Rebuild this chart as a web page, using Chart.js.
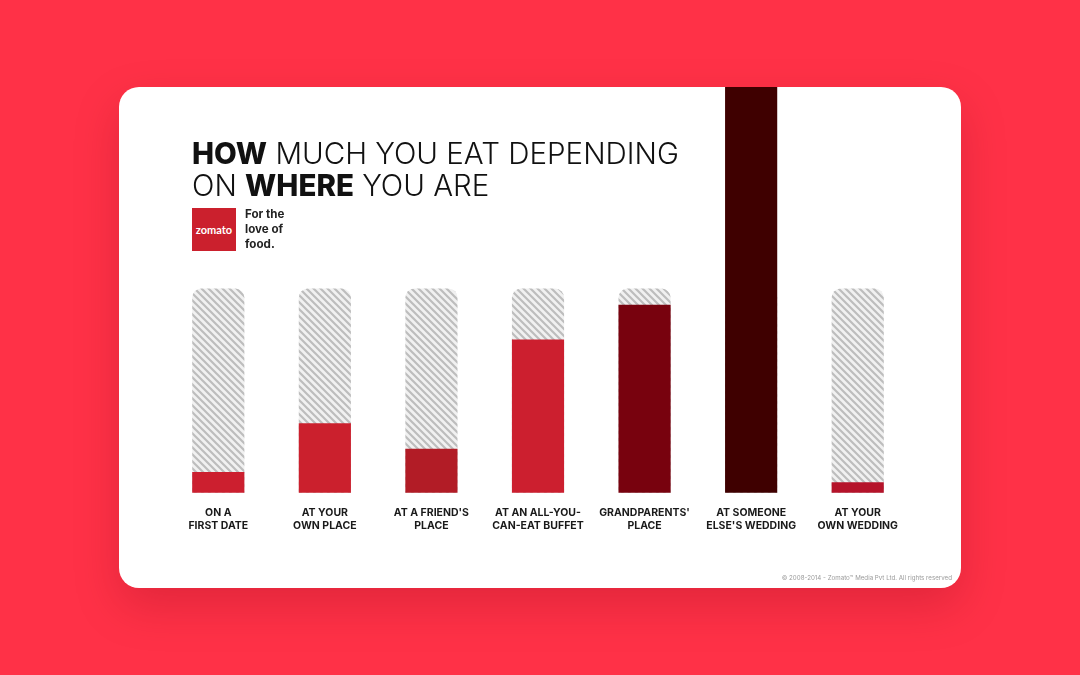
<!DOCTYPE html>
<html>
<head>
<meta charset="utf-8">
<title>How much you eat depending on where you are</title>
<script src="https://cdn.jsdelivr.net/npm/chart.js@4"></script>
<style>
  html, body { margin: 0; height: 100%; }
  body { width: 1080px; height: 675px; background: #ff3147; overflow: hidden; position: relative; font-family: Inter, sans-serif; }
  .card { position: absolute; left: 119px; top: 87px; width: 842px; height: 501px; background: #fff; border-radius: 20px; overflow: hidden; }
  .shadow { position: absolute; left: 119px; top: 87px; width: 842px; height: 501px; border-radius: 20px; box-shadow: 0 18px 46px rgba(120,0,20,.22); }
  #eatChart { position: absolute; left: 0; top: 0; }
  h1 { position: absolute; left: 73px; top: 50px; margin: 0; font-size: 29.5px; line-height: 32px; font-weight: 300; color: #111; white-space: nowrap; }
  h1 b { font-weight: 800; }
  .logo { position: absolute; left: 73px; top: 121px; width: 44px; height: 43px; background: #cb202d; color: #fff; font: 700 11px/43px Lato, sans-serif; text-align: center; }
  .tag { position: absolute; left: 126px; top: 120px; font: 700 11.6px/15px Inter, sans-serif; color: #222; }
  .copy { position: absolute; right: 9px; top: 487px; font: 6.2px Inter, sans-serif; color: #9a9a9a; white-space: nowrap; }
</style>
</head>
<body>
<div class="shadow"></div>
<div class="card">
  <canvas id="eatChart" width="842" height="501"></canvas>
  <h1><b>HOW</b> MUCH YOU EAT DEPENDING<br>ON <b>WHERE</b> YOU ARE</h1>
  <div class="logo">zomato</div>
  <div class="tag">For the<br>love of<br>food.</div>
  <div class="copy">© 2008-2014 - Zomato™ Media Pvt Ltd. All rights reserved</div>
</div>
<script>
/* values, full hatched bar = 100 */
const places = [
  { label: ['ON A', 'FIRST DATE'], value: 10, color: '#cc1f2f' },
  { label: ['AT YOUR', 'OWN PLACE'], value: 34, color: '#cb202d' },
  { label: ["AT A FRIEND'S", 'PLACE'], value: 21.5, color: '#b21c26' },
  { label: ['AT AN ALL-YOU-', 'CAN-EAT BUFFET'], value: 75, color: '#cc1f2f' },
  { label: ["GRANDPARENTS'", 'PLACE'], value: 92, color: '#78020e' },
  { label: ['AT SOMEONE', "ELSE'S WEDDING"], value: 199, color: '#3f0000' },
  { label: ['AT YOUR', 'OWN WEDDING'], value: 5, color: '#b5132a' }
];

/* diagonal stripes for the empty part of each bar */
function stripes(){
  const size = 7;
  const c = document.createElement('canvas');
  c.width = c.height = size;
  const g = c.getContext('2d');
  g.fillStyle = '#f1f1f1';
  g.fillRect(0, 0, size, size);
  g.strokeStyle = '#bdbdbd';
  g.lineWidth = 2.2;
  g.beginPath();
  g.moveTo(-2, -2); g.lineTo(size + 2, size + 2);
  g.moveTo(-2, size - 2); g.lineTo(2, size + 2);
  g.moveTo(size - 2, -2); g.lineTo(size + 2, 2);
  g.stroke();
  return g.createPattern(c, 'repeat');
}

new Chart(document.getElementById('eatChart'), {
  type: 'bar',
  data: {
    labels: places.map(p => p.label),
    datasets: [
      {
        data: places.map(p => p.value),
        backgroundColor: places.map(p => p.color),
        order: 1,
        grouped: false
      },
      {
        data: places.map(() => 100),
        backgroundColor: stripes(),
        borderRadius: { topLeft: 9, topRight: 9 },
        borderSkipped: 'bottom',
        order: 2,
        grouped: false
      }
    ]
  },
  options: {
    responsive: false,
    animation: false,
    layout: { padding: { left: 46, right: 50, top: 0, bottom: 50 } },
    datasets: { bar: { barThickness: 51.5 } },
    plugins: { legend: { display: false }, tooltip: { enabled: false } },
    scales: {
      x: {
        grid: { display: false },
        border: { display: false },
        ticks: {
          color: '#1a1a1a',
          font: { family: 'Inter', size: 10.5, weight: '700', lineHeight: 1.2 },
          maxRotation: 0,
          autoSkip: false,
          padding: 6
        }
      },
      y: { display: false, min: 0, max: 199 }
    }
  }
});
</script>
</body>
</html>
